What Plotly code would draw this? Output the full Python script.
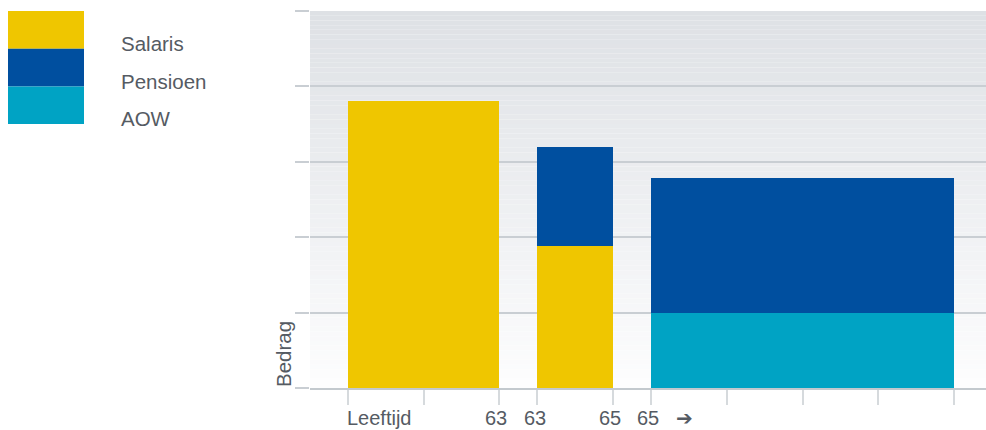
import plotly.graph_objects as go

# ---- data ----
series_names = ["Salaris", "AOW", "Pensioen"]
series_colors = {"Salaris": "#efc600", "Pensioen": "#004f9f", "AOW": "#00a3c4"}
bar_centers = [1.0, 3.0, 6.0]          # periods along the age axis
bar_widths = [2.0, 1.0, 4.0]
salaris = [3.81, 1.88, None]
aow = [None, None, 1.0]
pensioen = [None, 1.32, 1.79]
values = {"Salaris": salaris, "AOW": aow, "Pensioen": pensioen}

x_tickvals = [0, 1, 2, 2.5, 3.5, 4, 5, 6, 7, 8]
x_labels = ["Leeftijd", "63", "63", "65", "65", "\u2794"]
x_label_pos = [-0.03, 1.96, 2.47, 3.46, 3.96, 4.44]
y_tickvals = [0, 1, 2, 3, 4, 5]
legend_order = ["Salaris", "Pensioen", "AOW"]

W, H = 986, 430
TEXT = "#555b63"
FONT = "Liberation Sans, Arial, sans-serif"
FS = 20.5

fig = go.Figure()
for name in series_names:
    fig.add_trace(go.Bar(
        x=bar_centers, y=values[name], width=bar_widths,
        marker=dict(color=series_colors[name], line=dict(width=0)),
        name=name, showlegend=False, hoverinfo="skip"))

shapes = []
# gradient plot background
N = 80
top = (222, 225, 229)
bot = (253, 253, 254)
for i in range(N):
    t = i / (N - 1)
    c = tuple(round(top[k] + (bot[k] - top[k]) * t) for k in range(3))
    shapes.append(dict(type="rect", xref="x domain", yref="y domain",
                       x0=0, x1=1, y0=1 - (i + 1) / N, y1=1 - i / N,
                       fillcolor="rgb(%d,%d,%d)" % c, line=dict(width=0),
                       layer="below"))

# legend swatches (paper coords; plot area domain set so paper ~ pixels)
sw_top = 11
sw_h = 37.7
annotations = []
for i, name in enumerate(legend_order):
    y1 = sw_top + i * sw_h
    y0 = y1 + sw_h
    shapes.append(dict(type="rect", xref="paper", yref="paper",
                       x0=8 / W, x1=84 / W,
                       y0=(388 - y0) / 377, y1=(388 - y1) / 377,
                       fillcolor=series_colors[name], line=dict(width=0)))
    annotations.append(dict(xref="paper", yref="paper", x=119 / W,
                            y=(388 - (43.5 + i * 37.5)) / 377,
                            text=name, showarrow=False, xanchor="left",
                            yanchor="middle",
                            font=dict(size=FS, color=TEXT, family=FONT)))

# x labels
for lab, pos in zip(x_labels, x_label_pos):
    annotations.append(dict(xref="x", yref="paper", x=pos, y=(388 - 417.5) / 377,
                            text=lab, showarrow=False, borderpad=0,
                            xanchor="left" if lab == "Leeftijd" else "center",
                            yanchor="middle",
                            font=dict(size=20, color=TEXT, family=FONT)))
# y title
annotations.append(dict(xref="paper", yref="paper", x=283 / W, y=-1 / 377,
                        text="Bedrag", textangle=-90, showarrow=False,
                        xanchor="center", yanchor="bottom",
                        font=dict(size=FS, color=TEXT, family=FONT)))

fig.update_layout(
    width=W, height=H,
    margin=dict(l=0, r=0, t=11, b=42),
    paper_bgcolor="white", plot_bgcolor="rgba(0,0,0,0)",
    barmode="relative", bargap=0,
    shapes=shapes, annotations=annotations,
    showlegend=False,
    xaxis=dict(domain=[310 / W, 1], range=[-0.5, 8.42], showgrid=False,
               zeroline=False, tickmode="array", tickvals=x_tickvals,
               showticklabels=False, ticks="outside", ticklen=15,
               tickwidth=2, tickcolor="#d6dadd",
               showline=True, linecolor="rgba(185,192,198,0.85)", linewidth=2,
               fixedrange=True),
    yaxis=dict(range=[0, 5], tickmode="array", tickvals=y_tickvals,
               showticklabels=False, ticks="outside", ticklen=14,
               tickwidth=2, tickcolor="#c9ced3",
               showgrid=True, gridcolor="#c9ced3", gridwidth=2,
               zeroline=False, showline=False, fixedrange=True),
)

fig.write_html(
    "out.html",
    config={"displayModeBar": False},
    post_script="document.body.style.margin='0';"
                "document.body.style.overflow='hidden';",
)
